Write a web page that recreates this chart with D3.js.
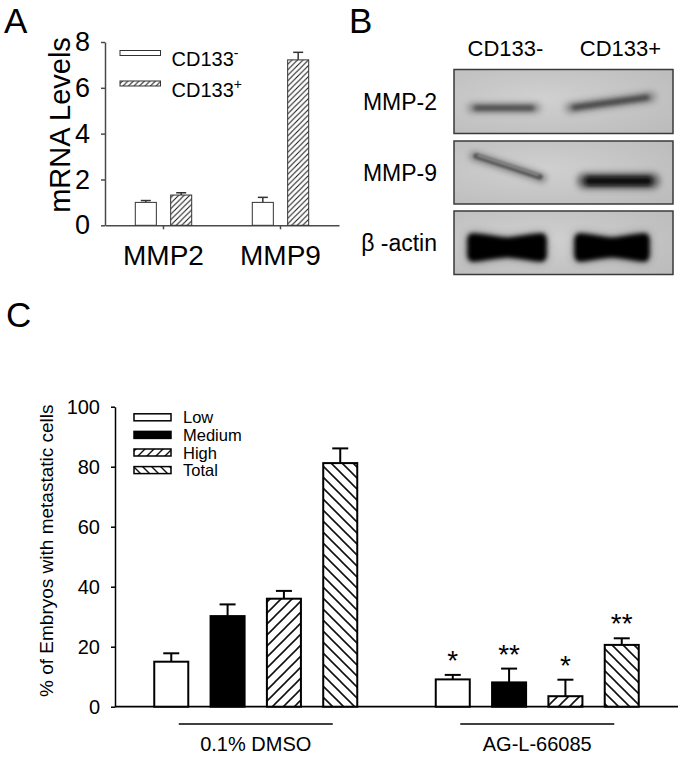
<!DOCTYPE html>
<html><head><meta charset="utf-8">
<script src="https://cdn.jsdelivr.net/npm/d3@7"></script>
<style>
body{margin:0;background:#fff;}
svg{display:block;font-family:"Liberation Sans",Arial,Helvetica,sans-serif;}
</style></head><body>
<svg id="chart" width="689" height="766"></svg>
<script>
// ---------- Panel A data ----------
const genes = ["MMP2", "MMP9"];
const cdSeries = ["neg", "pos"];
const cdLabels = ["CD133", "CD133"];
const cdSup = ["-", "+"];
const mrnaNeg = [1.0, 1.0];
const mrnaNegErr = [0.08, 0.22];
const mrnaPos = [1.32, 7.22];
const mrnaPosErr = [0.1, 0.33];
const mrnaTicks = [0, 2, 4, 6, 8];

// ---------- Panel B labels ----------
const blotLanes = ["CD133-", "CD133+"];
const blotRows = ["MMP-2", "MMP-9", "\u03B2 -actin"];

// ---------- Panel C data ----------
const treatments = ["0.1% DMSO", "AG-L-66085"];
const levels = ["Low", "Medium", "High", "Total"];
const dmsoVals = [15, 30.2, 36, 81.2];
const dmsoErr = [2.8, 3.9, 2.6, 4.9];
const agVals = [9.1, 8.1, 3.5, 20.6];
const agErr = [1.5, 4.6, 5.5, 2.2];
const dmsoStars = ["", "", "", ""];
const agStars = ["*", "**", "*", "**"];
const pctTicks = [0, 20, 40, 60, 80, 100];

const svg = d3.select("#chart");
const defs = svg.append("defs");

function hatch(id, size, dir, sw) {
  const p = defs.append("pattern").attr("id", id).attr("patternUnits", "userSpaceOnUse")
    .attr("width", size).attr("height", size);
  p.append("rect").attr("width", size).attr("height", size).attr("fill", "#fff");
  const s = size;
  const d = dir === "up"
    ? `M${-s/4},${s/4} L${s/4},${-s/4} M0,${s} L${s},0 M${3*s/4},${5*s/4} L${5*s/4},${3*s/4}`
    : `M${-s/4},${3*s/4} L${s/4},${5*s/4} M0,0 L${s},${s} M${3*s/4},${-s/4} L${5*s/4},${s/4}`;
  p.append("path").attr("d", d).attr("stroke", "#111").attr("stroke-width", sw);
}
hatch("hA", 5.5, "up", 1);
hatch("hHigh", 11, "up", 1.6);
hatch("hTotal", 11, "down", 1.6);
hatch("hHighL", 9, "up", 1.4);
hatch("hTotalL", 9, "down", 1.4);
[1.2, 2, 3, 4].forEach((s, i) => {
  defs.append("filter").attr("id", "blur" + i).attr("filterUnits", "userSpaceOnUse")
    .attr("x", 0).attr("y", 0).attr("width", 689).attr("height", 766)
    .append("feGaussianBlur").attr("stdDeviation", s);
});
const bg = defs.append("radialGradient").attr("id", "blotBg").attr("cx", "40%").attr("cy", "45%").attr("r", "75%");
bg.append("stop").attr("offset", "0%").attr("stop-color", "#d0d0d0");
bg.append("stop").attr("offset", "100%").attr("stop-color", "#bcbcbc");

// ---------- Panel letters ----------
[["A", 4, 33], ["B", 349, 33], ["C", 6, 327]].forEach(([t, x, y]) => {
  svg.append("text").attr("x", x).attr("y", y).attr("font-size", 35).attr("fill", "#000").text(t);
});

// ================= Panel A =================
const gA = svg.append("g");
const yA = d3.scaleLinear().domain([0, 8]).range([225.3, 42]);
const xA = d3.scaleBand().domain(genes).range([105, 339]);
const xA1 = d3.scaleBand().domain(cdSeries).range([-28.2, 28.2]).paddingInner(0.405);
const axisGrey = "#4a4a4a";

const yAxisA = gA.append("g").attr("transform", "translate(105,0)")
  .call(d3.axisLeft(yA).tickValues(mrnaTicks).tickSize(4).tickSizeOuter(0).tickPadding(11));
yAxisA.selectAll("text").attr("font-size", 27).attr("fill", "#000").attr("font-family", "Liberation Sans, Arial, sans-serif");
yAxisA.selectAll("path,line").attr("stroke", axisGrey).attr("stroke-width", 1.5);

const xAxisA = gA.append("g").attr("transform", `translate(0,${yA(0)})`)
  .call(d3.axisBottom(xA).tickSize(4).tickSizeOuter(0).tickPadding(16));
xAxisA.selectAll("text").attr("font-size", 28).attr("fill", "#000").attr("font-family", "Liberation Sans, Arial, sans-serif");
xAxisA.selectAll("path,line").attr("stroke", axisGrey).attr("stroke-width", 1.5);

gA.append("text").attr("transform", `translate(70,125) rotate(-90)`)
  .attr("text-anchor", "middle").attr("font-size", 29).text("mRNA Levels");

const barsA = [];
genes.forEach((g, i) => {
  barsA.push({ g, s: "neg", v: mrnaNeg[i], e: mrnaNegErr[i] });
  barsA.push({ g, s: "pos", v: mrnaPos[i], e: mrnaPosErr[i] });
});
barsA.forEach(d => {
  const x = xA(d.g) + xA.bandwidth() / 2 + xA1(d.s);
  const w = xA1.bandwidth();
  gA.append("line").attr("x1", x + w / 2).attr("x2", x + w / 2)
    .attr("y1", yA(d.v)).attr("y2", yA(d.v + d.e)).attr("stroke", "#333").attr("stroke-width", 1.5);
  gA.append("line").attr("x1", x + w / 2 - 5).attr("x2", x + w / 2 + 5)
    .attr("y1", yA(d.v + d.e)).attr("y2", yA(d.v + d.e)).attr("stroke", "#333").attr("stroke-width", 1.5);
  gA.append("rect").attr("x", x).attr("y", yA(d.v)).attr("width", w).attr("height", yA(0) - yA(d.v))
    .attr("fill", d.s === "neg" ? "#fff" : "url(#hA)").attr("stroke", "#333").attr("stroke-width", 1);
});

// legend A
cdSeries.forEach((s, i) => {
  const yy = 53 + i * 30.5;
  gA.append("rect").attr("x", 120).attr("y", yy - 2.5).attr("width", 40.5).attr("height", 5)
    .attr("fill", s === "neg" ? "#fff" : "url(#hA)").attr("stroke", "#333").attr("stroke-width", 1);
  const t = gA.append("text").attr("x", 171.5).attr("y", yy + 13).attr("font-size", 20);
  t.append("tspan").text(cdLabels[i]);
  t.append("tspan").attr("dy", -8).attr("font-size", 14).text(cdSup[i]);
});

// ================= Panel B =================
const gB = svg.append("g");
const laneX = d3.scaleBand().domain(blotLanes).range([448, 678]);
blotLanes.forEach(l => {
  gB.append("text").attr("x", laneX(l) + laneX.bandwidth() / 2).attr("y", 56)
    .attr("text-anchor", "middle").attr("font-size", 22).text(l);
});
const boxes = [[69.5, 133.5], [141, 204], [211, 274.5]];
const bx0 = 454, bx1 = 673;
blotRows.forEach((r, i) => {
  const [y0, y1] = boxes[i];
  gB.append("rect").attr("x", bx0).attr("y", y0).attr("width", bx1 - bx0).attr("height", y1 - y0)
    .attr("fill", "url(#blotBg)").attr("stroke", "#3a3a3a").attr("stroke-width", 1.5);
  gB.append("text").attr("x", 437).attr("y", (y0 + y1) / 2 + 8).attr("text-anchor", "end")
    .attr("font-size", 23).text(r);
});
const bandG = gB.append("g");
function band(x0, y0, x1, y1, w, col, f, op) {
  bandG.append("line").attr("x1", x0).attr("y1", y0).attr("x2", x1).attr("y2", y1)
    .attr("stroke", col).attr("stroke-width", w).attr("stroke-linecap", "round")
    .attr("opacity", op == null ? 1 : op)
    .attr("filter", `url(#blur${f})`);
}
// MMP-2
band(472, 108, 536, 108, 10, "#8a8a8a", 2, 0.9);
band(476, 108, 532, 108, 5, "#444", 1);
band(570, 108, 651, 97, 11, "#888", 2, 0.9);
band(574, 107.5, 647, 97.5, 5, "#3c3c3c", 1);
// MMP-9
band(474, 156, 542, 178, 9, "#777", 2, 0.9);
band(476, 156, 540, 177, 5, "#555", 0);
band(478, 155.5, 538, 175, 1.6, "#a0a0a0", 0);
band(585, 181, 652, 181, 16, "#555", 2, 0.9);
band(589, 181, 648, 181, 9, "#0a0a0a", 1);
// beta-actin bowties
function bowtie(xa, xb, yc) {
  const xm = (xa + xb) / 2;
  const pts = [[xa, yc - 13], [xm, yc - 9], [xb, yc - 13], [xb + 3, yc], [xb, yc + 14], [xm, yc + 10], [xa, yc + 14], [xa - 3, yc]];
  const dd = d3.line().curve(d3.curveCardinalClosed.tension(0.3))(pts);
  bandG.append("path").attr("d", dd).attr("fill", "#444").attr("filter", "url(#blur3)");
  bandG.append("path").attr("d", dd).attr("fill", "#050505").attr("filter", "url(#blur1)");
}
bowtie(471, 543, 247);
bowtie(578, 646, 247);

// ================= Panel C =================
const gC = svg.append("g");
const yC = d3.scaleLinear().domain([0, 100]).range([706.7, 406.7]);
const xC = d3.scaleBand().domain(treatments).range([115, 678]);
const xC1 = d3.scaleBand().domain(levels).range([-101.5, 101.5]).paddingInner(0.396);
const fills = { Low: "#fff", Medium: "#000", High: "url(#hHigh)", Total: "url(#hTotal)" };
const fillsL = { Low: "#fff", Medium: "#000", High: "url(#hHighL)", Total: "url(#hTotalL)" };

const yAxisC = gC.append("g").attr("transform", "translate(115,0)")
  .call(d3.axisLeft(yC).tickValues(pctTicks).tickSize(4).tickSizeOuter(0).tickPadding(11));
yAxisC.selectAll("text").attr("font-size", 20).attr("fill", "#000").attr("font-family", "Liberation Sans, Arial, sans-serif");
yAxisC.selectAll("path,line").attr("stroke", "#000").attr("stroke-width", 1.5);

gC.append("line").attr("x1", 115).attr("x2", 678).attr("y1", yC(0)).attr("y2", yC(0))
  .attr("stroke", "#000").attr("stroke-width", 1.8);

gC.append("text").attr("transform", `translate(53,${(yC(0) + yC(100)) / 2 - 6}) rotate(-90)`)
  .attr("text-anchor", "middle").attr("font-size", 19).text("% of Embryos with metastatic cells");

const groups = [
  { t: treatments[0], vals: dmsoVals, err: dmsoErr, stars: dmsoStars },
  { t: treatments[1], vals: agVals, err: agErr, stars: agStars }
];
groups.forEach(G => {
  const cx = xC(G.t) + xC.bandwidth() / 2;
  levels.forEach((lv, i) => {
    const x = cx + xC1(lv);
    const w = xC1.bandwidth();
    const v = G.vals[i], e = G.err[i];
    gC.append("line").attr("x1", x + w / 2).attr("x2", x + w / 2)
      .attr("y1", yC(v)).attr("y2", yC(v + e)).attr("stroke", "#000").attr("stroke-width", 2);
    gC.append("line").attr("x1", x + w / 2 - 8).attr("x2", x + w / 2 + 8)
      .attr("y1", yC(v + e)).attr("y2", yC(v + e)).attr("stroke", "#000").attr("stroke-width", 2);
    gC.append("rect").attr("x", x).attr("y", yC(v)).attr("width", w).attr("height", yC(0) - yC(v))
      .attr("fill", fills[lv]).attr("stroke", "#000").attr("stroke-width", 2);
    if (G.stars[i]) {
      gC.append("text").attr("x", x + w / 2).attr("y", yC(v + e) - 5)
        .attr("text-anchor", "middle").attr("font-size", 28).text(G.stars[i]);
    }
  });
  gC.append("line").attr("x1", cx - 77).attr("x2", cx + 77).attr("y1", 724).attr("y2", 724)
    .attr("stroke", "#000").attr("stroke-width", 1.5);
  gC.append("text").attr("x", cx).attr("y", 751).attr("text-anchor", "middle")
    .attr("font-size", 20).text(G.t);
});

// legend C
levels.forEach((lv, i) => {
  const yy = 417.3 + i * 17.6;
  gC.append("rect").attr("x", 134).attr("y", yy - 3.5).attr("width", 37).attr("height", 7)
    .attr("fill", fillsL[lv]).attr("stroke", "#000").attr("stroke-width", 1.5);
  gC.append("text").attr("x", 183).attr("y", yy + 6).attr("font-size", 16.5).text(lv);
});
</script>
</body></html>
